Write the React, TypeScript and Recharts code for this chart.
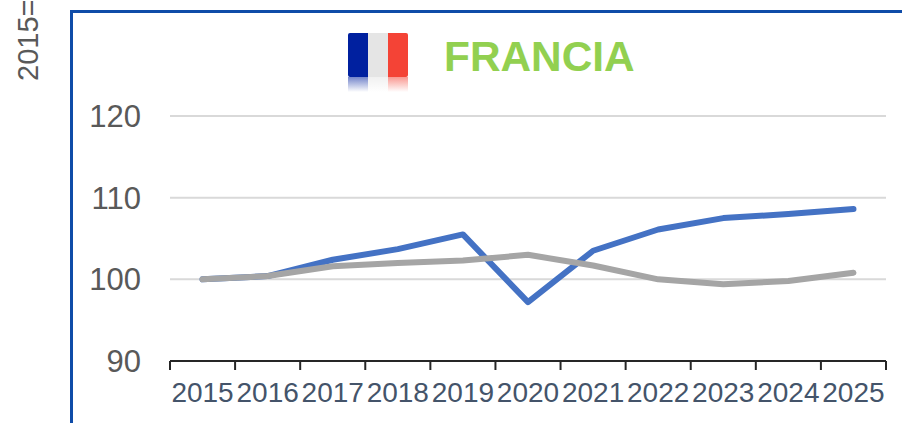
import { LineChart, Line, XAxis, YAxis, CartesianGrid } from "recharts"

const years = ["2015", "2016", "2017", "2018", "2019", "2020", "2021", "2022", "2023", "2024", "2025"]
const blueValues = [100, 100.4, 102.4, 103.7, 105.5, 97.2, 103.5, 106.1, 107.5, 108.0, 108.6]
const greyValues = [100, 100.4, 101.6, 102.0, 102.3, 103.0, 101.7, 100.0, 99.4, 99.8, 100.8]
const yTicks = [90, 100, 110, 120]
const edgeTicks = [0, 1, 2, 3, 4, 5, 6, 7, 8, 9, 10, 11]

const chartData = years.map((year, i) => ({
  year,
  blue: blueValues[i],
  grey: greyValues[i],
}))

const font = "'Liberation Sans', Arial, sans-serif"
const flagColors = ["#00209f", "#e5e5e5", "#f44336"]

export default function App() {
  return (
    <div style={{ position: "absolute", left: 0, top: 0, width: 902, height: 423, overflow: "hidden", background: "#fff", fontFamily: font }}>
      {/* marco azul del panel */}
      <div style={{ position: "absolute", left: 69.5, top: 10, width: 840, height: 430, borderLeft: "3px solid #0f4ca8", borderTop: "3px solid #0f4ca8" }} />

      <LineChart
        width={902}
        height={423}
        data={chartData}
        margin={{ top: 116, right: 16, bottom: 0, left: 0 }}
        style={{ position: "absolute", left: 0, top: 0 }}
      >
        <CartesianGrid horizontal vertical={false} stroke="#d9d9d9" strokeWidth={2} xAxisId="a-edge" />
        {/* marcas entre categorias */}
        <XAxis
          xAxisId="a-edge"
          type="number"
          dataKey={() => 0}
          domain={[0, 11]}
          ticks={edgeTicks}
          height={1}
          tickFormatter={() => ""}
          tickSize={9}
          axisLine={{ stroke: "#262626", strokeWidth: 2 }}
          tickLine={{ stroke: "#262626", strokeWidth: 2 }}
        />
        <XAxis
          xAxisId="b-cat"
          dataKey="year"
          scale="band"
          height={61}
          interval={0}
          axisLine={false}
          tickLine={false}
          tickSize={0}
          tickMargin={20}
          tick={{ fill: "#44546a", fontSize: 28, fontFamily: font }}
        />
        <YAxis
          width={170}
          domain={[90, 120]}
          ticks={yTicks}
          axisLine={false}
          tickLine={false}
          tickSize={0}
          tickMargin={29}
          tick={{ fill: "#595959", fontSize: 31, fontFamily: font }}
        />
        <Line xAxisId="b-cat" dataKey="blue" stroke="#4472c4" strokeWidth={6} strokeLinecap="round" strokeLinejoin="round" dot={false} isAnimationActive={false} />
        <Line xAxisId="b-cat" dataKey="grey" stroke="#a5a5a5" strokeWidth={6} strokeLinecap="round" strokeLinejoin="round" dot={false} isAnimationActive={false} />
      </LineChart>

      {/* bandera */}
      <div style={{ position: "absolute", left: 348, top: 33, width: 60, height: 44, display: "flex", borderRadius: 2, overflow: "hidden" }}>
        {flagColors.map((c) => (
          <div key={c} style={{ flex: 1, background: c }} />
        ))}
      </div>
      <div style={{ position: "absolute", left: 348, top: 77, width: 60, height: 15, display: "flex" }}>
        {flagColors.map((c) => (
          <div key={c} style={{ flex: 1, background: `linear-gradient(${c}, #ffffff)`, opacity: 0.55 }} />
        ))}
      </div>

      <div style={{ position: "absolute", left: 444, top: 33, fontSize: 42.4, lineHeight: "48px", fontWeight: 700, color: "#92d050" }}>FRANCIA</div>

      <div style={{ position: "absolute", left: 13, top: 81, fontSize: 29, lineHeight: "30px", color: "#595959", whiteSpace: "nowrap", transformOrigin: "0 0", transform: "rotate(-90deg)" }}>2015=</div>
    </div>
  )
}
